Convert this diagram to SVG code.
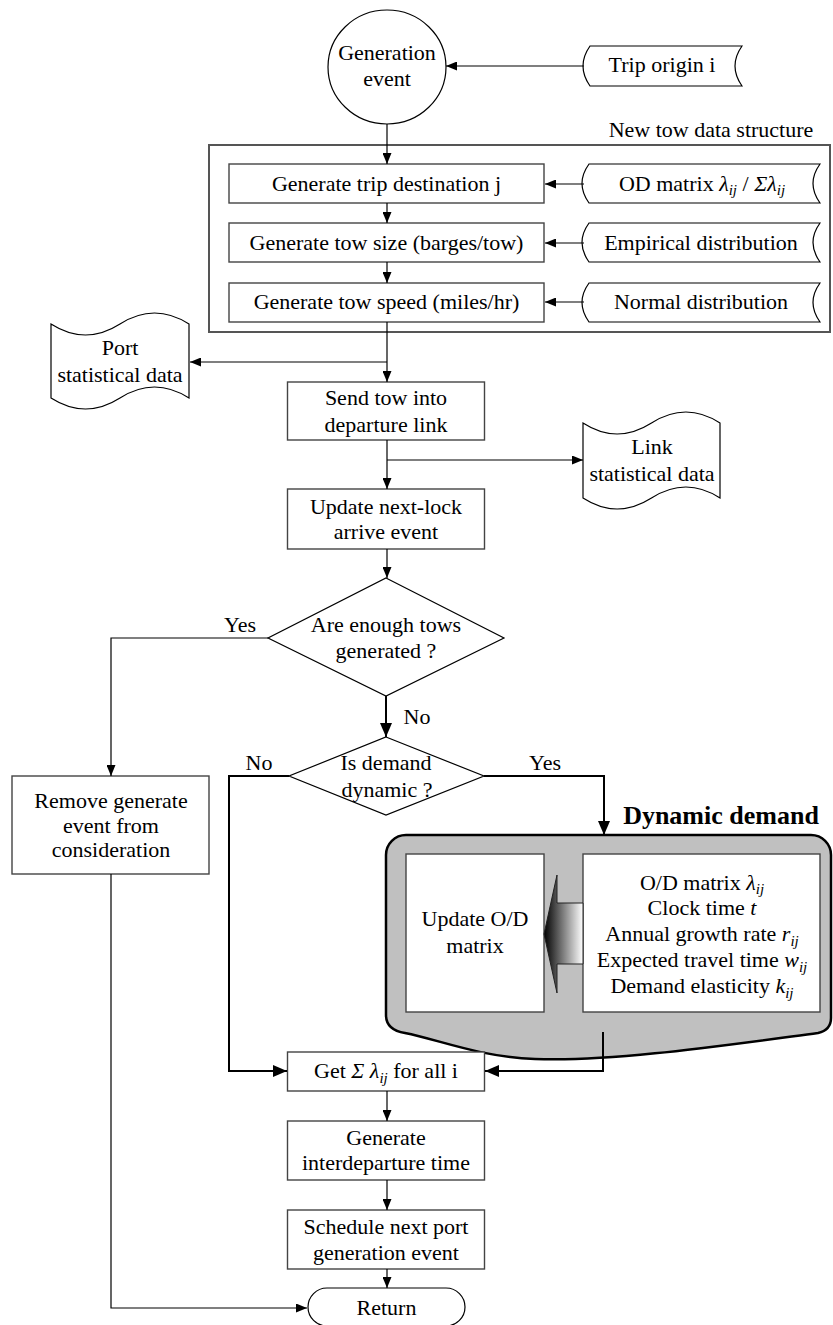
<svg xmlns="http://www.w3.org/2000/svg" width="833" height="1325" viewBox="0 0 833 1325">
<defs>
<style>
text{font-family:"Liberation Serif","Times New Roman",serif;font-size:22px;fill:#000;text-anchor:middle}
.it{font-style:italic}
.sub{font-size:15px;font-style:italic}
.box{fill:#fff;stroke:#444;stroke-width:1.4}
.ln{fill:none;stroke:#000;stroke-width:1.2}
.thk{fill:none;stroke:#000;stroke-width:2}
.ah{marker-end:url(#a)}
.ahb{marker-end:url(#b)}
</style>
<marker id="a" markerUnits="userSpaceOnUse" markerWidth="11" markerHeight="9" refX="11" refY="4.5" orient="auto"><path d="M0,0 L11,4.5 L0,9 Z" fill="#000"/></marker>
<marker id="b" markerUnits="userSpaceOnUse" markerWidth="14" markerHeight="12" refX="14" refY="6" orient="auto"><path d="M0,0 L14,6 L0,12 Z" fill="#000"/></marker>
<linearGradient id="g" gradientUnits="userSpaceOnUse" x1="544" y1="0" x2="583" y2="0"><stop offset="0" stop-color="#000"/><stop offset="1" stop-color="#fff"/></linearGradient>
</defs>

<g id="container">
<rect x="209" y="145" width="621" height="187" fill="none" stroke="#555" stroke-width="2"/>
<text x="711" y="137">New tow data structure</text>
</g>

<g id="dynamic-demand">
<path d="M386,855 A20,20 0 0 1 406,835 L811,835 A20,20 0 0 1 831,855 L831,1018 Q831,1030 818,1033 C720,1046 610,1062 535,1059 C480,1057 440,1040 405,1033 Q386,1030 386,1015 Z" fill="#c0c0c0" stroke="#000" stroke-width="2.5"/>
<text x="721" y="824" style="font-weight:bold;font-size:26px">Dynamic demand</text>
</g>

<g id="generation-event">
<ellipse cx="387" cy="67" rx="59" ry="57" fill="#fff" stroke="#000" stroke-width="1.2"/>
<text x="387" y="60">Generation</text>
<text x="387" y="86">event</text>
</g>

<g id="trip-origin">
<path d="M590,46 L742,46 Q728,66 742,86 L590,86 Q576,66 590,46 Z" fill="#fff" stroke="#000" stroke-width="1.2"/>
<text x="662" y="72">Trip origin i</text>
</g>

<g id="gen-dest">
<rect class="box" x="229" y="164" width="315" height="39"/>
<text x="386.5" y="191">Generate trip destination j</text>
</g>
<g id="gen-size">
<rect class="box" x="229" y="223" width="315" height="39"/>
<text x="386.5" y="250">Generate tow size (barges/tow)</text>
</g>
<g id="gen-speed">
<rect class="box" x="229" y="283" width="315" height="39"/>
<text x="386.5" y="309">Generate tow speed (miles/hr)</text>
</g>

<g id="od-matrix">
<path d="M589,164 L820,164 Q806,183.5 820,203 L589,203 Q575,183.5 589,164 Z" fill="#fff" stroke="#000" stroke-width="1.2"/>
<text x="702" y="191">OD matrix <tspan class="it">λ</tspan><tspan class="sub" dy="4">ij</tspan><tspan dy="-4"> / </tspan><tspan class="it">Σλ</tspan><tspan class="sub" dy="4">ij</tspan></text>
</g>
<g id="empirical">
<path d="M589,223 L820,223 Q806,242.5 820,262 L589,262 Q575,242.5 589,223 Z" fill="#fff" stroke="#000" stroke-width="1.2"/>
<text x="701" y="250">Empirical distribution</text>
</g>
<g id="normal">
<path d="M589,283 L820,283 Q806,302.5 820,322 L589,322 Q575,302.5 589,283 Z" fill="#fff" stroke="#000" stroke-width="1.2"/>
<text x="701" y="309">Normal distribution</text>
</g>

<g id="port-stat">
<path d="M51,324 Q85.5,346 120,324 T189,324 L189,398 Q154.5,376 120,398 T51,398 Z" fill="#fff" stroke="#000" stroke-width="1.2" transform="matrix(1 0 0 1 0 0)"/>
<text x="120" y="355">Port</text>
<text x="120" y="382">statistical data</text>
</g>

<g id="send-tow">
<rect class="box" x="287.5" y="382" width="197" height="58"/>
<text x="386" y="405">Send tow into</text>
<text x="386" y="432">departure link</text>
</g>

<g id="link-stat">
<path d="M583,423 Q617,445 651.5,423 T720,423 L720,498 Q686,476 651.5,498 T583,498 Z" fill="#fff" stroke="#000" stroke-width="1.2"/>
<text x="652" y="454">Link</text>
<text x="652" y="481">statistical data</text>
</g>

<g id="update-lock">
<rect class="box" x="287.5" y="489" width="197" height="60"/>
<text x="386" y="514">Update next-lock</text>
<text x="386" y="539">arrive event</text>
</g>

<g id="enough-tows">
<polygon points="386,578 504,638 386,696 268,638" fill="#fff" stroke="#000" stroke-width="1.2"/>
<text x="386" y="632">Are enough tows</text>
<text x="386" y="658">generated ?</text>
</g>

<g id="remove-event">
<rect class="box" x="12" y="776" width="197" height="98"/>
<text x="111" y="808">Remove generate</text>
<text x="111" y="833">event from</text>
<text x="111" y="857">consideration</text>
</g>

<g id="demand-dynamic">
<polygon points="386,737 484,776 386,815 289,776" fill="#fff" stroke="#000" stroke-width="1.2"/>
<text x="386" y="770">Is demand</text>
<text x="387" y="797">dynamic ?</text>
</g>

<g id="update-od">
<rect class="box" x="406" y="854" width="138" height="158"/>
<text x="475" y="926">Update O/D</text>
<text x="475" y="953">matrix</text>
</g>

<g id="od-data">
<rect class="box" x="583" y="854" width="237" height="158"/>
<text x="702" y="890">O/D matrix <tspan class="it">λ</tspan><tspan class="sub" dy="4">ij</tspan></text>
<text x="702" y="915">Clock time <tspan class="it">t</tspan></text>
<text x="702" y="941">Annual growth rate  <tspan class="it">r</tspan><tspan class="sub" dy="5">ij</tspan></text>
<text x="702" y="967">Expected travel time  <tspan class="it">w</tspan><tspan class="sub" dy="5">ij</tspan></text>
<text x="702" y="993">Demand elasticity  <tspan class="it">k</tspan><tspan class="sub" dy="5">ij</tspan></text>
</g>

<g id="big-arrow">
<polygon points="544,934 557,875 557,903 583,903 583,964 557,964 557,993" fill="url(#g)" stroke="#222" stroke-width="1"/>
</g>

<g id="get-sum">
<rect class="box" x="287.5" y="1052" width="197" height="39"/>
<text x="386" y="1078">Get  <tspan class="it">Σ λ</tspan><tspan class="sub" dy="5">ij</tspan><tspan dy="-5">  for all i</tspan></text>
</g>

<g id="gen-interdeparture">
<rect class="box" x="287.5" y="1121" width="197" height="59"/>
<text x="386" y="1145">Generate</text>
<text x="386" y="1170">interdeparture time</text>
</g>

<g id="schedule">
<rect class="box" x="287.5" y="1210" width="197" height="59"/>
<text x="386" y="1234">Schedule next port</text>
<text x="386" y="1260">generation event</text>
</g>

<g id="return">
<rect x="308" y="1288" width="157" height="38" rx="19" ry="19" fill="#fff" stroke="#000" stroke-width="1.2"/>
<text x="386.5" y="1315">Return</text>
</g>

<g id="connectors">
<line class="ln ah" x1="584" y1="66" x2="446" y2="66"/>
<line class="ln ah" x1="387" y1="124" x2="387" y2="164"/>
<line class="ln ah" x1="387" y1="203" x2="387" y2="223"/>
<line class="ln ah" x1="387" y1="262" x2="387" y2="283"/>
<line class="ln ah" x1="584" y1="184" x2="545" y2="184"/>
<line class="ln ah" x1="584" y1="243" x2="545" y2="243"/>
<line class="ln ah" x1="584" y1="302" x2="545" y2="302"/>
<line class="ln ah" x1="387" y1="322" x2="387" y2="382"/>
<line class="ln ah" x1="387" y1="362" x2="190" y2="362"/>
<line class="ln ah" x1="387" y1="440" x2="387" y2="489"/>
<line class="ln ah" x1="387" y1="460" x2="583" y2="460"/>
<line class="ln ah" x1="387" y1="549" x2="387" y2="578"/>
<polyline class="ln ah" points="268,638 111,638 111,776"/>
<polyline class="ln ah" points="111,874 111,1308 307,1308"/>
<line class="thk ahb" x1="386" y1="696" x2="386" y2="737"/>
<polyline class="thk ahb" points="289,776 229,776 229,1071 287,1071"/>
<polyline class="thk ahb" points="484,776 604,776 604,835"/>
<polyline class="thk ahb" points="603,1032 603,1071 485,1071"/>
<line class="ln ah" x1="387" y1="1091" x2="387" y2="1121"/>
<line class="ln ah" x1="387" y1="1180" x2="387" y2="1210"/>
<line class="ln ah" x1="387" y1="1269" x2="387" y2="1288"/>
<text x="240" y="632">Yes</text>
<text x="417" y="724">No</text>
<text x="259" y="770">No</text>
<text x="545" y="770">Yes</text>
</g>
</svg>
